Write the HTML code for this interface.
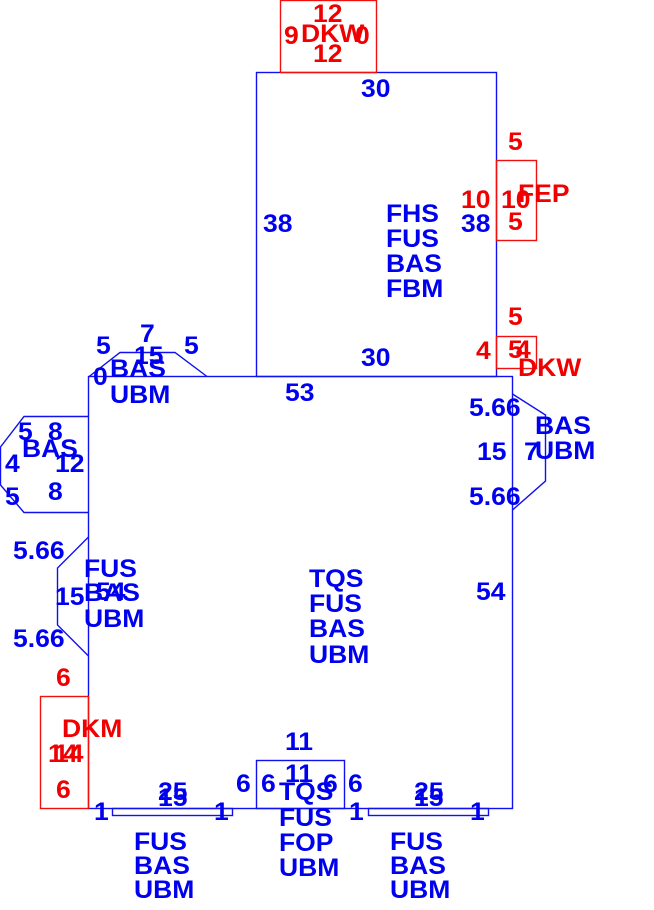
<!DOCTYPE html>
<html><head><meta charset="utf-8"><style>
html,body{margin:0;padding:0;background:#fff;}
svg{display:block;}
text{font-family:"Liberation Sans",Arial,sans-serif;font-weight:bold;font-size:25px;}
.b{fill:#0000f0;} .r{fill:#f00000;}
</style></head><body>
<svg id="s" width="654" height="910" viewBox="0 0 654 910" xmlns="http://www.w3.org/2000/svg">
<g fill="none" stroke-width="1.4">
<g stroke="#1010f0">
<rect x="256.5" y="72.5" width="240" height="304"/>
<rect x="88.5" y="376.5" width="424" height="432"/>
<polyline points="88.5,377 120,352.5 175,352.5 207,376.5"/>
<polyline points="88.5,416.5 24,416.5 0.5,447 0.5,485 24,512.5 88.5,512.5"/>
<polyline points="88.5,537 57.5,568 57.5,625 88.5,656"/>
<polyline points="512.5,394 545.5,415 545.5,481 512.5,510"/>
<rect x="256.5" y="760.5" width="88" height="48"/>
<rect x="112.5" y="808.5" width="120" height="7"/>
<rect x="368.5" y="808.5" width="120" height="7"/>
</g>
<g stroke="#f01010">
<rect x="280.5" y="0.5" width="96" height="72"/>
<rect x="496.5" y="160.5" width="40" height="80"/>
<rect x="496.5" y="336.5" width="40" height="32"/>
<rect x="40.5" y="696.5" width="48" height="112"/>
</g>
</g>
<g id="t"></g>
</svg>
<script>
var T=[
["b","30",361,97],["b","38",263,232],["b","FHS",386,222],["b","FUS",386,247],["b","BAS",386,272],["b","FBM",386,297],
["b","38",461,232],["b","30",361,366],["b","53",285,401],
["b","5",96,354],["b","7",140,342],["b","5",184,354],["b","15",134,364],["b","0",93,385],["b","BAS",110,377],["b","UBM",110,403],
["b","5",18,440],["b","8",48,440],["b","BAS",22,457],["b","4",5,472],["b","12",55,472],["b","5",5,505],["b","8",48,500],
["b","5.66",13,559],["b","FUS",84,577],["b","15",55,605],["b","54",96,600],["b","BAS",84,601],["b","UBM",84,627],["b","5.66",13,647],
["b","5.66",469,416],["b","15",477,460],["b","7",524,460],["b","BAS",535,434],["b","UBM",535,459],["b","5.66",469,505],
["b","54",476,600],
["b","TQS",309,587],["b","FUS",309,612],["b","BAS",309,637],["b","UBM",309,663],
["b","11",285,750],["b","11",285,782],["b","6",236,792],["b","6",261,792],["b","6",323,792],["b","6",348,792],
["b","TQS",279,800],["b","FUS",279,826],["b","FOP",279,851],["b","UBM",279,876],
["b","25",158,800],["b","15",158,806],["b","1",94,820],["b","1",214,820],["b","FUS",134,850],["b","BAS",134,874],["b","UBM",134,898],
["b","25",414,800],["b","15",414,806],["b","1",349,820],["b","1",470,820],["b","FUS",390,850],["b","BAS",390,874],["b","UBM",390,898],
["r","12",313,22],["r","9",284,44],["r","DKW",301,42],["r","0",355,44],["r","12",313,62],
["r","5",508,150],["r","10",461,208],["r","10",501,208],["r","FEP",518,202],["r","5",508,230],
["r","5",508,325],["r","4",476,359],["r","5",508,358],["r","4",516,358],["r","DKW",518,376],
["r","6",56,686],["r","DKM",62,737],["r","14",48,762],["r","14",54,762],["r","6",56,798]
];
var g=document.getElementById("t"),ns="http://www.w3.org/2000/svg";
T.forEach(function(a){var e=document.createElementNS(ns,"text");e.setAttribute("class",a[0]);
e.setAttribute("transform","translate("+a[2]+","+a[3]+") scale(1.06,1)");e.textContent=a[1];g.appendChild(e);});
</script>
</body></html>
